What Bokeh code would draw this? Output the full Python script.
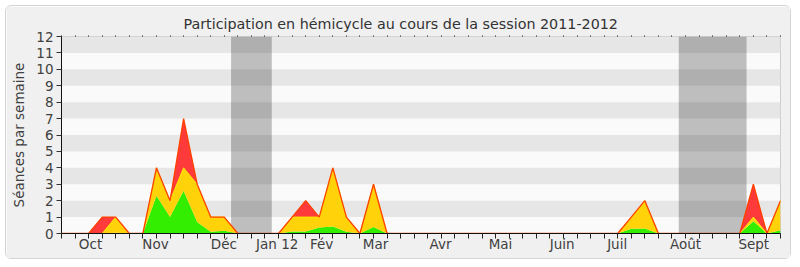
from bokeh.plotting import figure
from bokeh.models import FixedTicker, LinearAxis, BoxAnnotation, Range1d, Title
from bokeh.embed import file_html
from bokeh.resources import INLINE
import numpy as np

# Week index of the 2011-2012 session (0 = first week shown)
weeks = list(range(54))

# Sessions per week, one array per stacked layer (bottom to top)
green = [0, 0, 0, 0, 0.05, 0, 0, 2.3, 1.0, 2.6, 0.7, 0.1, 0.16, 0, 0, 0,
         0, 0.12, 0.12, 0.37, 0.42, 0.1, 0, 0.4, 0, 0, 0, 0, 0, 0, 0, 0,
         0, 0, 0, 0, 0, 0, 0, 0, 0, 0, 0.29, 0.3, 0, 0, 0, 0, 0, 0, 0,
         0.75, 0, 0.2]
yellow = [0, 0, 0, 0, 0.95, 0, 0, 1.7, 1.0, 1.4, 2.3, 0.9, 0.84, 0, 0, 0,
          0, 0.88, 0.88, 0.63, 3.58, 0.9, 0, 2.6, 0, 0, 0, 0, 0, 0, 0, 0,
          0, 0, 0, 0, 0, 0, 0, 0, 0, 0, 0.71, 1.7, 0, 0, 0, 0, 0, 0, 0,
          0.25, 0, 1.8]
red = [0, 0, 0, 1, 0, 0, 0, 0, 0, 3, 0, 0, 0, 0, 0, 0,
       0, 0, 1, 0, 0, 0, 0, 0, 0, 0, 0, 0, 0, 0, 0, 0,
       0, 0, 0, 0, 0, 0, 0, 0, 0, 0, 0, 0, 0, 0, 0, 0, 0, 0, 0,
       2, 0, 0]

# Month labels and where they sit on the week axis
month_labels = ["Oct", "Nov", "Déc", "Jan 12", "Fév", "Mar", "Avr", "Mai",
                "Juin", "Juil", "Août", "Sept"]
month_pos = [2.14, 6.93, 11.97, 15.9, 19.17, 23.15, 27.94, 32.36, 36.9,
             40.96, 46.0, 51.03]

# Parliamentary recesses (week spans)
breaks = [(12.5, 15.5), (45.5, 50.5)]

y_max = 12

g_top = np.array(green)
y_top = g_top + np.array(yellow)
total = y_top + np.array(red)

FONT = "DejaVu Sans"
TXT = "#404040"

p = figure(width=786, height=254, output_backend="svg", toolbar_location=None,
           x_range=Range1d(0, weeks[-1]), y_range=Range1d(0, y_max),
           min_border_left=55, min_border_right=12, min_border_top=30,
           min_border_bottom=27)
p.styles = {"margin-left": "5px", "margin-top": "5px",
            "border": "1px solid #d4d4d4", "border-radius": "6px"}

p.background_fill_color = "#fafafa"
p.border_fill_color = "#f0f0f0"
p.outline_line_color = "#cccccc"
p.xgrid.visible = False
p.ygrid.visible = False

# Alternating horizontal bands
for b in range(1, y_max, 2):
    p.add_layout(BoxAnnotation(bottom=b, top=b + 1, fill_color="#e6e6e6",
                               fill_alpha=1, line_color=None, level="underlay"))
for lo, hi in breaks:
    p.add_layout(BoxAnnotation(left=lo, right=hi, fill_color="#000000",
                               fill_alpha=0.24, line_color=None, level="underlay"))

# Stacked areas
p.varea(x=weeks, y1=0, y2=g_top, fill_color="#33ee00")
p.varea(x=weeks, y1=g_top, y2=y_top, fill_color="#ffd20a")
p.varea(x=weeks, y1=y_top, y2=total, fill_color="#ff3a3a")
p.line(x=weeks, y=y_top, line_color="#ffe600", line_width=1)
p.line(x=weeks, y=total, line_color="#ff4000", line_width=1.3)

# X axis: weekly tick marks, month labels
xa = p.xaxis[0]
xa.ticker = FixedTicker(ticks=month_pos, minor_ticks=weeks)
xa.major_label_overrides = {pos: lab for pos, lab in zip(month_pos, month_labels)}
xa.major_tick_out = 0
xa.major_tick_in = 0
xa.minor_tick_out = 5
xa.minor_tick_in = 0
xa.minor_tick_line_color = "#222222"
xa.axis_line_color = "#111111"
xa.major_label_text_font = FONT
xa.major_label_text_font_size = "13.5px"
xa.major_label_text_color = TXT
xa.major_label_standoff = -3

# Y axis
ya = p.yaxis[0]
ya.ticker = FixedTicker(ticks=list(range(0, y_max + 1)))
ya.minor_tick_line_color = None
ya.major_tick_out = 5
ya.major_tick_in = 0
ya.major_tick_line_color = "#333333"
ya.axis_line_color = "#111111"
ya.major_label_text_font = FONT
ya.major_label_text_font_size = "13.5px"
ya.major_label_text_color = TXT
ya.major_label_standoff = 3
ya.axis_label = "Séances par semaine"
ya.axis_label_text_font = FONT
ya.axis_label_text_font_size = "13.5px"
ya.axis_label_text_font_style = "normal"
ya.axis_label_text_color = TXT
ya.axis_label_standoff = 6

# Small week marks along the top edge
top = LinearAxis(ticker=FixedTicker(ticks=[], minor_ticks=weeks))
top.axis_line_color = None
top.minor_tick_out = 1
top.minor_tick_in = 0
top.minor_tick_line_color = "#111111"
top.major_label_text_font_size = "0px"
top.major_label_standoff = 0
p.add_layout(top, "above")

# Title, outside the top tick row
title = Title(text="Participation en hémicycle au cours de la session 2011-2012",
              text_font=FONT, text_font_size="14.3px", text_font_style="normal",
              text_color="#333333", align="left", offset=122, standoff=4,
              vertical_align="top")
p.add_layout(title, "above")

open("out.html", "w").write(file_html(p, INLINE))
